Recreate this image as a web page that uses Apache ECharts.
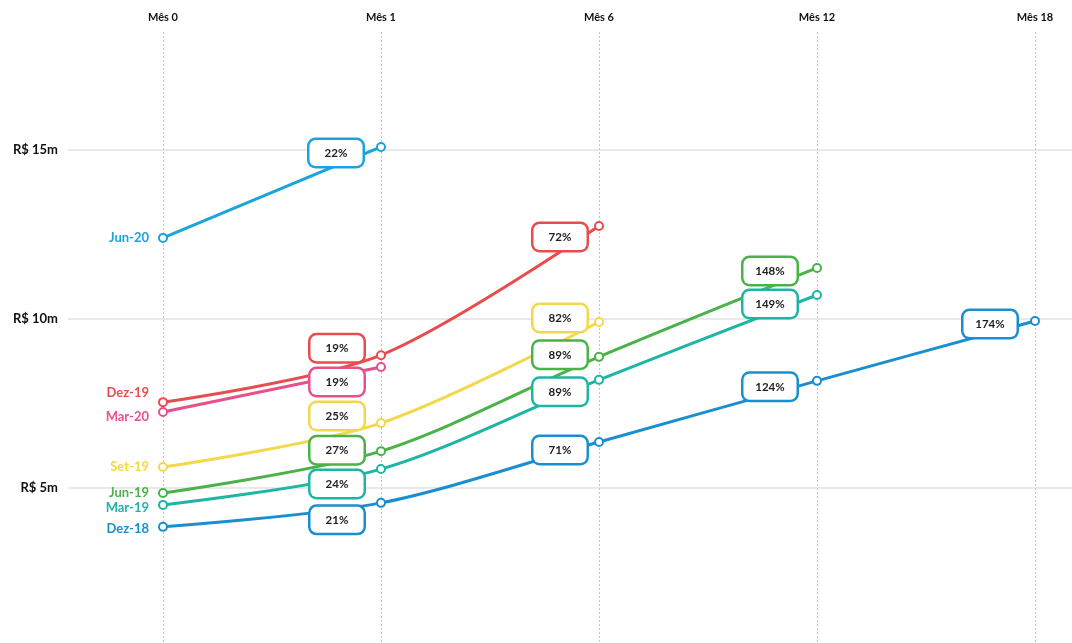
<!DOCTYPE html>
<html>
<head>
<meta charset="utf-8">
<script src="https://cdn.jsdelivr.net/npm/echarts@6/dist/echarts.min.js"></script>
<style>
  html, body { margin: 0; padding: 0; background: #fff; }
  #chart { width: 1072px; height: 643px; }
</style>
</head>
<body>
<div id="chart"></div>
<script>
// ---- Data ----
const months = ['Mês 0', 'Mês 1', 'Mês 6', 'Mês 12', 'Mês 18'];
const cohorts = ['Jun-20', 'Dez-19', 'Mar-20', 'Set-19', 'Jun-19', 'Mar-19', 'Dez-18'];
// Revenue in R$ millions
const vJun20 = [12.40, 15.09];
const vDez19 = [7.54, 8.93, 12.75];
const vMar20 = [7.25, 8.58];
const vSet19 = [5.62, 6.92, 9.91];
const vJun19 = [4.85, 6.09, 8.88, 11.51];
const vMar19 = [4.50, 5.56, 8.20, 10.71];
const vDez18 = [3.85, 4.56, 6.36, 8.17, 9.94];
// Growth vs Mês 0
const pJun20 = ['22%'];
const pDez19 = ['19%', '72%'];
const pMar20 = ['19%'];
const pSet19 = ['25%', '82%'];
const pJun19 = ['27%', '89%', '148%'];
const pMar19 = ['24%', '89%', '149%'];
const pDez18 = ['21%', '71%', '124%', '174%'];
const yTicks = [5, 10, 15];

// ---- Styles / layout (not data) ----
const colors = ['#1ba3dd', '#e84c4c', '#e8508a', '#f2d84a', '#4bb24a', '#1fb5a5', '#1a8fd0'];
const nameOffsets = [[0, 0], [0, -9], [0, 5], [0, 0], [0, 0], [0, 3], [0, 2]];
const boxOffsets = [
  [[-45, 6]],
  [[-44, -7], [-39, 11]],
  [[-44, 15]],
  [[-44, -7], [-39, -4]],
  [[-44, -1], [-39, -2], [-47, 3]],
  [[-44, 15], [-39, 12], [-47, 9]],
  [[-44, 17], [-39, 8], [-47, 6], [-45, 3]]
];
const values = [vJun20, vDez19, vMar20, vSet19, vJun19, vMar19, vDez18];
const pcts = [pJun20, pDez19, pMar20, pSet19, pJun19, pMar19, pDez18];

const FONT = 'Lato, "Open Sans", sans-serif';
// vertical scale: px per R$1m and pixel of the R$10m line
const K = 33.8, Y10 = 319, H = 643, TOP1 = 32;
const yMin = 10 - (H - Y10) / K;
const yMax0 = 10 + Y10 / K;
const yMax1 = 10 + (Y10 - TOP1) / K;

const series = cohorts.map((name, i) => {
  const data = values[i].map((v, j) => {
    if (j === 0) {
      return {
        value: v,
        label: {
          show: true, position: 'left', distance: 9,
          formatter: name, color: colors[i], fontWeight: 'bold', fontSize: 13,
          fontFamily: FONT, offset: nameOffsets[i]
        }
      };
    }
    return {
      value: v,
      label: {
        show: true, position: 'inside',
        formatter: pcts[i][j - 1],
        offset: boxOffsets[i][j - 1],
        color: '#222', fontWeight: 'bold', fontSize: 11.5, fontFamily: FONT,
        backgroundColor: '#fff', borderColor: colors[i], borderWidth: 2.5, borderRadius: 6,
        width: 53, height: 26, lineHeight: 26, align: 'center', verticalAlign: 'middle'
      }
    };
  });
  return {
    name: name, type: 'line', xAxisIndex: 1, yAxisIndex: 1,
    data: data, smooth: 0.3,
    symbol: 'emptyCircle', symbolSize: 8,
    lineStyle: { color: colors[i], width: 3 },
    itemStyle: { color: colors[i], borderWidth: 1.5 },
    emphasis: { disabled: true },
    z: 2 + i * 0.01
  };
});

// background series to anchor grid 0
series.push({ type: 'line', xAxisIndex: 0, yAxisIndex: 0, data: [], silent: true });

const chart = echarts.init(document.getElementById('chart'), null, { renderer: 'canvas' });
chart.setOption({
  animation: false,
  backgroundColor: '#fff',
  grid: [
    { left: 68, right: 0, top: 0, bottom: 0 },
    { left: 163, right: 37, top: TOP1, bottom: 0 }
  ],
  xAxis: [
    { gridIndex: 0, type: 'value', show: false, min: 0, max: 1 },
    {
      gridIndex: 1, type: 'category', data: months, boundaryGap: false, position: 'top',
      axisLine: { show: false }, axisTick: { show: false },
      axisLabel: { margin: 9, color: '#111', fontWeight: 'bold', fontSize: 11, fontFamily: FONT, interval: 0 },
      splitLine: { show: true, interval: 0, lineStyle: { color: '#c4c4c4', type: [2, 2], width: 1 } }
    }
  ],
  yAxis: [
    {
      gridIndex: 0, type: 'value', min: yMin, max: yMax0, minInterval: 5, maxInterval: 5,
      axisLine: { show: false }, axisTick: { show: false },
      axisLabel: {
        margin: 10, color: '#111', fontWeight: 'bold', fontSize: 13, fontFamily: FONT,
        showMinLabel: false, showMaxLabel: false,
        formatter: v => (yTicks.indexOf(Math.round(v * 1000) / 1000) >= 0 ? 'R$ ' + Math.round(v) + 'm' : '')
      },
      splitLine: { show: true, showMinLine: false, showMaxLine: false, lineStyle: { color: '#e2e2e2', width: 1.5 } }
    },
    { gridIndex: 1, type: 'value', min: yMin, max: yMax1, show: false, splitLine: { show: false } }
  ],
  series: series
});
</script>
</body>
</html>
